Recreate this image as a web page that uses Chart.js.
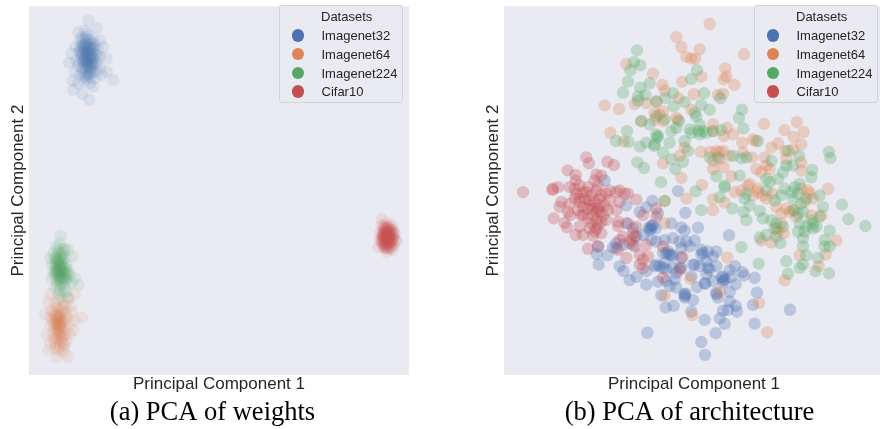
<!DOCTYPE html>
<html><head><meta charset="utf-8">
<script src="https://cdn.jsdelivr.net/npm/chart.js@4"></script>
<style>
html,body{margin:0;padding:0;background:#fff;width:880px;height:429px;overflow:hidden;position:relative}
canvas{position:absolute;top:0;filter:blur(0.4px)}
.lg{position:absolute;top:5px;width:124px;height:98px;box-sizing:border-box;border:1px solid #d2d3da;border-radius:3px;background:#eaeaf2;font:13px "Liberation Sans",Arial,sans-serif;color:#262626;filter:blur(0.3px)}
.lg div{position:absolute;white-space:nowrap;line-height:15px}
.lg i{position:absolute;width:12.5px;height:12.5px;border-radius:50%}
</style></head><body>
<canvas id="a" width="425" height="429" style="left:0;width:425px;height:429px"></canvas>
<canvas id="b" width="425" height="429" style="left:477px;width:425px;height:429px"></canvas>
<script>
const names=["Imagenet32","Imagenet64","Imagenet224","Cifar10"];
const colors=["76,114,176","221,132,82","85,168,104","196,78,82"];
const legendTitle="Datasets";
const xLabel="Principal Component 1", yLabel="Principal Component 2";
const captionA="(a) PCA of weights", captionB="(b) PCA of architecture";

const weights32=[[265,50],[290,72],[235,85],[255,80],[262,90],[245,100],[280,105],[300,110],[240,110],[310,130],[225,130],[258,115],[272,120],[250,125],[285,125],[295,140],[320,165],[215,150],[207,178],[228,170],[240,145],[255,140],[270,140],[285,150],[300,160],[245,160],[260,155],[275,160],[290,175],[235,185],[250,175],[265,170],[280,180],[300,195],[320,205],[340,230],[225,205],[245,195],[258,190],[272,195],[288,205],[305,215],[218,232],[240,215],[255,210],[270,212],[285,225],[235,240],[252,235],[270,240],[220,260],[247,272],[268,290],[280,250],[262,125],[262,135],[268,150],[255,165],[262,180],[275,172],[268,200],[260,225],[250,150],[278,140],[258,170],[270,165],[265,185],[255,130],[245,135],[272,130],[240,175],[250,105],[258,100],[270,110],[248,118],[262,108],[280,118],[242,128],[255,122],[268,128],[282,135],[238,140],[250,142],[262,146],[275,150],[290,155],[245,152],[258,160],[270,155],[282,165],[248,168],[262,172],[275,178],[288,185],[252,182],[265,192],[278,190],[255,198],[268,208],[280,205],[248,205],[262,215],[272,222],[255,220],[265,160],[268,175],[260,145],[272,185],[258,178],[265,140],[275,132],[252,158],[278,165]];
const weights64=[[150,880],[175,895],[205,895],[225,880],[145,905],[165,910],[190,915],[212,915],[135,940],[155,930],[175,925],[195,930],[215,935],[245,952],[150,950],[165,945],[180,945],[200,950],[225,960],[160,965],[175,960],[190,965],[210,970],[150,975],[165,980],[180,980],[195,985],[220,990],[140,1002],[160,1000],[175,995],[190,1005],[210,1000],[170,1015],[185,1020],[200,1020],[150,1030],[170,1035],[195,1035],[145,1050],[175,1050],[190,1058],[170,1072],[205,1070],[178,950],[172,970],[182,965],[178,985],[170,955],[185,955],[175,975],[180,1005],[160,935],[172,940],[185,935],[198,940],[158,955],[168,962],[175,968],[185,975],[195,960],[165,972],[172,985],[185,990],[195,1000],[165,990],[178,1000],[172,1010],[185,1012],[160,1015],[178,1025],[190,1030],[165,1025],[178,958],[172,950],[180,975],[175,990],[168,945],[182,925],[170,920],[195,910],[180,1040],[165,1045],[190,1045]];
const weights224=[[182,702],[180,725],[168,735],[195,740],[160,755],[175,750],[190,755],[205,745],[150,770],[165,770],[180,770],[195,770],[218,765],[155,790],[170,785],[185,785],[200,790],[160,810],[175,800],[190,805],[205,805],[165,825],[180,820],[195,820],[210,825],[225,832],[155,830],[170,840],[185,835],[200,840],[215,845],[235,852],[165,860],[180,855],[195,860],[175,880],[190,875],[205,890],[175,810],[185,815],[180,800],[170,815],[190,795],[178,830],[185,770],[172,795],[192,830],[180,840],[165,795],[200,815],[175,775],[185,760],[170,760],[180,790],[178,780],[172,778],[165,782],[188,778],[182,795],[175,790],[168,805],[178,805],[188,810],[198,802],[172,822],[182,825],[192,815],[165,815],[175,830],[185,828],[195,835],[205,818],[178,815],[185,800],[172,805],[168,770],[180,760],[190,745],[178,740],[200,830],[182,845],[170,850],[190,848],[178,868],[185,890],[200,872]];
const weightsCifar=[[1145,652],[1145,672],[1160,665],[1175,670],[1150,680],[1165,680],[1180,685],[1140,695],[1155,690],[1170,695],[1185,695],[1140,715],[1155,705],[1170,710],[1185,715],[1135,738],[1150,725],[1165,725],[1180,730],[1155,740],[1170,740],[1160,752],[1178,745],[1190,720],[1160,700],[1160,715],[1150,700],[1170,700],[1158,730],[1165,690],[1150,715],[1170,720],[1155,680],[1160,740],[1165,705],[1155,695],[1145,705],[1175,705],[1160,725],[1165,735],[1152,672],[1162,674],[1170,678],[1156,684],[1148,690],[1162,685],[1175,688],[1152,696],[1160,692],[1168,690],[1178,698],[1148,702],[1158,700],[1165,698],[1175,712],[1145,712],[1152,708],[1162,710],[1170,705],[1180,708],[1148,720],[1156,716],[1165,715],[1175,722],[1152,730],[1160,720],[1170,728],[1155,735],[1165,742],[1162,730],[1158,706],[1166,712],[1160,678],[1170,685],[1155,722],[1168,722],[1150,708],[1178,715],[1160,710],[1164,700],[1156,712],[1172,716],[1158,690],[1150,735],[1175,735],[1145,725],[1180,695]];

const arch32=[[535,567],[315,535],[458,597],[440,617],[420,630],[475,635],[557,633],[380,610],[455,673],[450,685],[515,665],[545,677],[555,687],[595,678],[688,701],[520,710],[495,715],[540,720],[585,717],[570,735],[545,740],[295,735],[340,738],[350,740],[291,758],[323,762],[297,790],[360,795],[372,810],[390,837],[410,827],[440,851],[475,842],[440,810],[465,795],[490,800],[500,755],[515,760],[545,770],[580,790],[605,745],[625,750],[650,750],[605,760],[640,765],[650,795],[630,805],[620,820],[706,795],[690,807],[728,813],[733,823],[670,827],[670,845],[695,827],[708,850],[765,830],[772,875],[592,858],[617,847],[510,855],[530,860],[555,885],[555,890],[580,898],[485,883],[498,920],[522,915],[575,933],[650,875],[655,890],[690,873],[690,902],[708,915],[670,930],[685,927],[712,933],[760,912],[871,927],[660,953],[675,970],[615,958],[648,998],[605,1025],[616,1064],[765,969],[443,997],[495,785],[525,835],[410,705],[380,665],[470,720],[455,715],[350,725],[490,755],[520,800],[600,795],[575,825],[640,840],[540,800],[510,760],[470,790],[455,680],[560,720],[620,780],[675,835],[555,880],[460,670],[448,678],[468,680],[520,765],[505,750],[480,795],[500,805],[610,755],[672,838],[665,828],[615,848],[650,880],[558,878],[530,815],[500,840],[545,800],[585,790],[625,800],[400,680],[370,730],[430,700],[400,730]];
const arch64=[[630,60],[530,100],[545,130],[600,137],[560,160],[575,165],[587,165],[733,152],[380,182],[677,195],[460,211],[680,220],[672,228],[547,235],[605,220],[704,245],[488,245],[495,262],[583,273],[670,272],[655,275],[315,307],[358,318],[405,303],[440,300],[470,295],[537,285],[465,330],[490,325],[575,320],[490,355],[425,355],[530,345],[640,365],[793,363],[891,358],[332,390],[855,382],[912,388],[682,375],[700,395],[672,400],[640,385],[882,403],[372,417],[760,410],[728,420],[768,415],[905,425],[835,422],[815,435],[880,440],[857,445],[555,435],[603,448],[632,448],[660,448],[670,445],[690,460],[730,450],[757,465],[795,465],[860,470],[905,480],[490,483],[540,460],[640,475],[672,495],[640,500],[770,500],[800,490],[905,505],[695,522],[545,527],[607,548],[750,545],[985,560],[725,565],[705,570],[560,590],[640,592],[675,602],[640,625],[760,580],[800,590],[930,575],[935,640],[495,665],[1010,717],[785,717],[815,723],[852,695],[830,680],[965,640],[900,762],[978,760],[957,795],[855,838],[683,769],[778,906],[803,996],[495,885],[578,943],[660,873],[572,833],[495,597],[870,630],[845,635],[890,645],[830,615],[745,550],[775,560],[820,575],[790,580],[905,560],[925,565],[940,590],[860,620],[885,625],[915,600],[810,500],[785,510],[775,570],[465,350],[480,335],[535,350],[660,470],[650,445],[835,690],[845,665]];
const arch224=[[412,140],[403,175],[422,185],[392,200],[592,200],[575,227],[385,235],[450,240],[422,253],[370,268],[437,275],[415,280],[415,293],[470,295],[520,270],[497,285],[613,270],[662,285],[555,297],[605,305],[522,310],[630,320],[585,330],[590,340],[727,320],[718,345],[425,355],[450,365],[470,340],[495,350],[538,355],[600,365],[731,377],[570,380],[530,375],[515,385],[382,385],[597,385],[470,395],[575,390],[620,390],[640,385],[665,382],[349,415],[387,418],[421,432],[440,420],[463,430],[473,405],[510,420],[555,415],[565,445],[775,415],[490,450],[515,470],[550,478],[527,500],[413,480],[433,497],[484,540],[988,448],[992,467],[865,445],[898,460],[815,475],[630,465],[655,465],[700,460],[725,468],[740,465],[860,490],[880,490],[937,503],[935,525],[650,522],[675,550],[720,520],[850,510],[800,530],[588,568],[675,555],[605,625],[660,585],[698,620],[732,630],[740,655],[780,627],[725,737],[777,787],[860,780],[865,818],[900,800],[910,790],[948,810],[988,817],[955,770],[920,762],[910,735],[975,735],[990,735],[975,715],[910,710],[895,690],[940,680],[990,687],[1027,608],[1046,652],[1097,673],[780,708],[800,700],[830,705],[842,725],[815,655],[850,675],[825,680],[740,575],[735,590],[750,610],[825,595],[800,565],[875,570],[880,590],[905,605],[895,635],[910,630],[935,655],[960,580],[970,615],[920,675],[950,675],[960,645],[900,665],[845,580],[790,650],[495,597],[810,540],[835,530],[855,560],[885,555],[900,545],[895,575],[920,590],[880,625],[830,665],[940,665],[915,690],[465,425],[475,400],[600,395],[610,385]];
const archCifar=[[260,465],[268,483],[323,478],[343,488],[204,504],[228,518],[290,517],[305,520],[228,535],[285,535],[160,560],[175,555],[210,555],[240,550],[265,555],[295,550],[330,565],[360,565],[385,575],[70,570],[158,563],[230,575],[260,570],[290,565],[320,575],[350,570],[375,575],[410,593],[185,600],[210,605],[240,600],[270,595],[300,590],[330,595],[360,600],[180,615],[205,630],[235,625],[265,620],[295,620],[325,625],[350,625],[212,640],[245,640],[280,640],[310,640],[162,650],[195,663],[202,677],[240,675],[275,665],[295,670],[320,655],[355,673],[228,700],[250,700],[280,703],[305,695],[265,742],[295,735],[360,715],[385,665],[410,675],[400,695],[370,705],[395,715],[440,730],[355,745],[380,770],[420,760],[445,765],[430,800],[490,735],[548,767],[540,807],[490,830],[470,645],[470,620],[430,640],[300,610],[290,630],[280,620],[300,630],[270,610],[250,615],[240,590],[225,560],[250,570],[275,580],[305,580],[225,590],[255,590],[285,600],[315,610],[250,640],[265,650],[290,655],[305,660],[290,680],[285,690],[270,680],[405,705],[390,725],[405,735],[430,775],[420,790],[355,660]];

const seriesA=[weights32,weights64,weights224,weightsCifar];
const seriesB=[arch32,arch64,arch224,archCifar];
const drawOrder=[3,2,1,0];
const font="'Liberation Sans',Arial,sans-serif", serif="'Liberation Serif','Times New Roman',serif", ink="#262626";

function panel(id,series,alpha,range,leftW,caption,yPad){
  new Chart(document.getElementById(id),{
    type:"scatter",
    data:{datasets:series.map((s,i)=>({
      label:names[i],order:drawOrder[i],
      data:s.map(p=>({x:p[0],y:p[1]})),
      backgroundColor:`rgba(${colors[i]},${alpha})`,
      borderWidth:0,pointRadius:6.2,pointHoverRadius:6.2
    }))},
    options:{
      responsive:false,animation:false,devicePixelRatio:1,
      layout:{padding:{top:2,left:0,right:0,bottom:0}},
      plugins:{
        legend:{display:false},tooltip:{enabled:false},
        title:{display:true,position:"bottom",text:caption,color:"#000",
          font:{family:serif,size:26.5,weight:"normal",lineHeight:1.2},padding:{top:2.5,bottom:0}}
      },
      scales:{
        x:{type:"linear",min:range[0],max:range[1],
          grid:{display:false},border:{display:false},ticks:{display:false},
          title:{display:true,text:xLabel,color:ink,font:{family:font,size:17},padding:{top:0,bottom:0}},
          afterFit(s){s.height=19.7}},
        y:{type:"linear",min:range[2],max:range[3],reverse:true,
          grid:{display:false},border:{display:false},ticks:{display:false},
          title:{display:true,text:yLabel,color:ink,font:{family:font,size:17},padding:{top:yPad,bottom:0}},
          afterFit(s){s.width=leftW}},
        gap:{position:"right",type:"linear",display:true,
          grid:{display:false},border:{display:false},ticks:{display:false},
          afterFit(s){s.width=id==="a"?16:18}}
      }
    },
    plugins:[{id:"bgfill",beforeDraw(c){const a=c.chartArea,x=c.ctx;x.save();x.fillStyle="#eaeaf2";x.fillRect(a.left,a.top,a.right-a.left,a.bottom-a.top);x.restore();}}]
  });
}
panel("a",seriesA,0.11,[87,1227,6,1125],29,captionA,8);
panel("b",seriesB,0.3,[13,1153,6,1125],27,captionB,6);

function legend(left){
  const d=document.createElement("div");d.className="lg";d.style.left=left+"px";
  const t=document.createElement("div");t.textContent=legendTitle;t.style.left="41px";t.style.top="3px";d.appendChild(t);
  names.forEach((n,i)=>{
    const y=22+i*18.8;
    const m=document.createElement("i");m.style.left="11.5px";m.style.top=(y+1)+"px";m.style.background=`rgb(${colors[i]})`;d.appendChild(m);
    const l=document.createElement("div");l.textContent=n;l.style.left="41.5px";l.style.top=y+"px";d.appendChild(l);
  });
  document.body.appendChild(d);
}
legend(279);legend(754);
</script>
</body></html>
